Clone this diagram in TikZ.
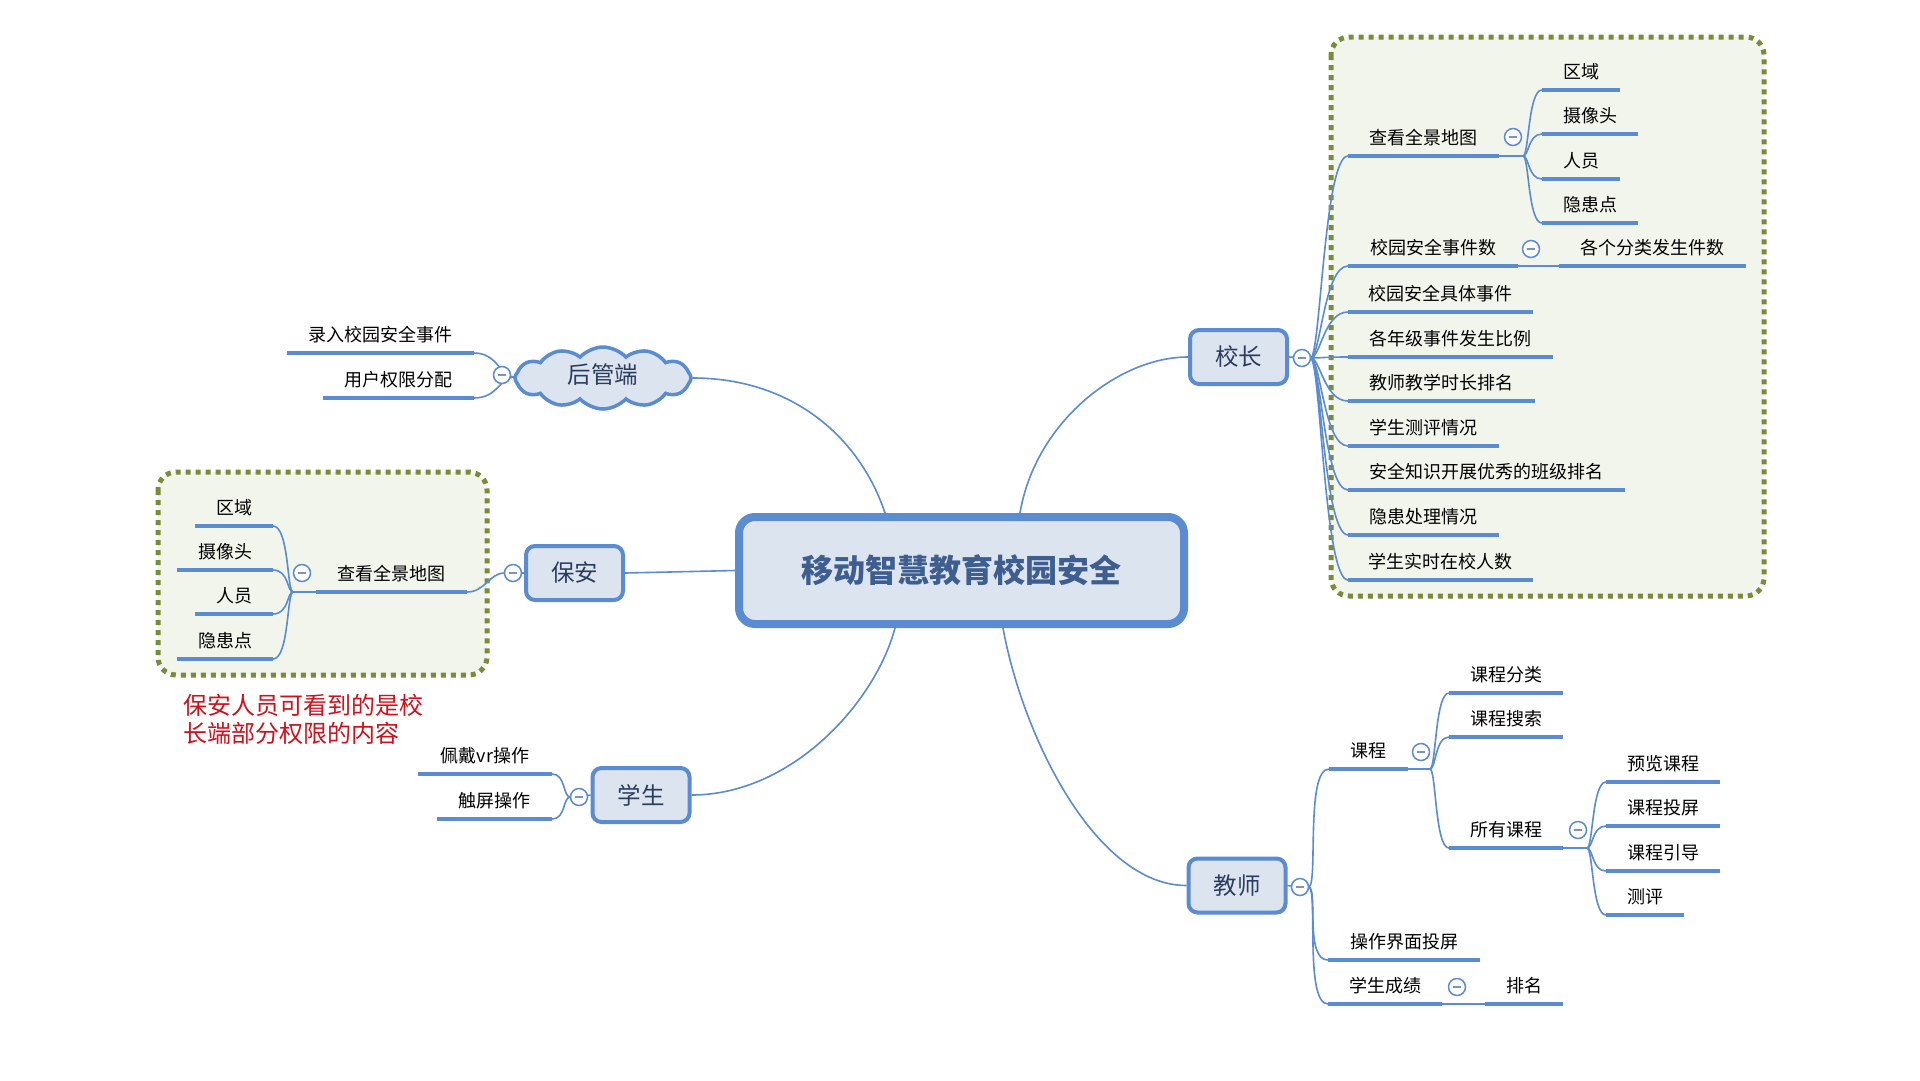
\documentclass[tikz,border=0pt]{standalone}
\usepackage{fontspec}
\setmainfont{Noto Sans CJK SC}
\usetikzlibrary{shapes.symbols}
\definecolor{mmblue}{HTML}{5B8BD0}
\definecolor{mmfill}{HTML}{DCE4F0}
\definecolor{mmtext}{HTML}{2B3D5C}
\definecolor{mmtitle}{HTML}{3D5E8F}
\definecolor{mmolive}{HTML}{7A8B3A}
\definecolor{mmbg}{HTML}{F2F5EC}
\definecolor{mmred}{HTML}{D0101B}
\definecolor{mmminus}{HTML}{7F93B8}
\tikzset{
 conn/.style={draw=mmblue, line width=1.6pt},
 uline/.style={draw=mmblue, line width=4.5pt},
 leaftext/.style={inner sep=0pt, font=\fontsize{18}{20}\selectfont, text=black},
 topic/.style={draw=mmblue, line width=4pt, fill=mmfill, rounded corners=9pt, minimum width=97pt, minimum height=54pt, inner sep=0pt, font=\fontsize{23.5}{26}\selectfont, text=mmtext},
 collapse/.style={circle, draw=mmblue, line width=1.5pt, fill=white, minimum size=17pt, inner sep=0pt,
   path picture={\draw[draw=mmminus, line width=1.5pt] ([xshift=-4pt]path picture bounding box.center) -- ([xshift=4pt]path picture bounding box.center);}},
 groupbox/.style={draw=mmolive, fill=mmbg, line width=5pt, dash pattern=on 5pt off 5pt, rounded corners=18pt},
}
\newcommand\mmleaf[5]{%
 \coordinate (#1L) at (#2,#4);
 \coordinate (#1R) at (#3,#4);
 \draw[uline] (#1L) -- (#1R);
 \node[leaftext] (#1) at ({(#2+#3)/2},{#4-18.5}) {#5};
}
\begin{document}
\begin{tikzpicture}[x=1pt,y=-1pt]
\fill[white] (0,0) rectangle (1920,1080);
\useasboundingbox (0,0) rectangle (1920,1080);

% group boxes
\draw[groupbox] (1331,37) rectangle (1764,596);
\draw[groupbox] (158,472) rectangle (487,675);

% main topics
\node[draw=mmblue, line width=8pt, fill=mmfill, rounded corners=16pt, minimum width=445pt, minimum height=107pt, inner sep=0pt,
  font=\fontsize{32}{36}\selectfont\bfseries, text=mmtitle] (root) at (961.5,570.5) {移动智慧教育校园安全};
\node[topic] (xz) at (1238.5,357) {校长};
\node[topic] (ba) at (574.5,573) {保安};
\node[topic] (xs) at (641,795) {学生};
\node[topic] (js) at (1237,885.5) {教师};
\node[cloud, cloud puffs=12, cloud puff arc=95, cloud ignores aspect, draw=mmblue, line width=3.5pt, fill=mmfill,
  minimum width=176pt, minimum height=62pt, inner sep=0pt, font=\fontsize{23.5}{26}\selectfont, text=mmtext] (hg) at (603,378) {};
\node[inner sep=0pt, font=\fontsize{23.5}{26}\selectfont, text=mmtext] (hgt) at (603,375) {后管端};

% main connectors
\draw[conn] (hg.east) .. controls +(100,0) and +(-25,-75) .. ([xshift=-76.5pt]root.north);
\draw[conn] ([xshift=58.5pt]root.north) .. controls +(15,-90) and +(-70,0) .. (xz.west);
\draw[conn] (ba.east) -- (root.west);
\draw[conn] (xs.east) .. controls +(100,0) and +(-20,75) .. ([xshift=-66.5pt]root.south);
\draw[conn] ([xshift=41.5pt]root.south) .. controls +(20,110) and +(-90,0) .. (js.west);

% collapse circles (positions)
\coordinate (cxzP) at (1302,358);
\coordinate (cbaP) at (513,573);
\coordinate (cxsP) at (579,797);
\coordinate (cjsP) at (1300,887);
\coordinate (chgP) at (502,375);

% ---------- 校长 ----------
\mmleaf{ra}{1348}{1499}{156}{查看全景地图}
\mmleaf{raa}{1542}{1620}{90}{区域}
\mmleaf{rab}{1542}{1638}{134}{摄像头}
\mmleaf{rac}{1542}{1620}{179}{人员}
\mmleaf{rad}{1542}{1638}{223}{隐患点}
\mmleaf{rb}{1348}{1518}{266}{校园安全事件数}
\mmleaf{rba}{1559}{1746}{266}{各个分类发生件数}
\mmleaf{rc}{1348}{1533}{312}{校园安全具体事件}
\mmleaf{rd}{1348}{1553}{357}{各年级事件发生比例}
\mmleaf{re}{1348}{1535}{401}{教师教学时长排名}
\mmleaf{rf}{1348}{1499}{446}{学生测评情况}
\mmleaf{rg}{1348}{1625}{490}{安全知识开展优秀的班级排名}
\mmleaf{rh}{1348}{1499}{535}{隐患处理情况}
\mmleaf{ri}{1348}{1533}{580}{学生实时在校人数}

\draw[conn] (xz.east) -- (cxzP);
\foreach \c in {ra,rb,rc,rd,re,rf,rg,rh,ri}
  \draw[conn] ([xshift=8.5pt]cxzP) .. controls +(10,0) and +(-24,0) .. (\c L);
\draw[conn] (raR) -- ++(24,0) coordinate (rabp);
\foreach \c in {raa,rab,rac,rad}
  \draw[conn] (rabp) .. controls +(6,0) and +(-14,0) .. (\c L);
\draw[conn] (rbR) -- (rbaL);

% ---------- 保安 ----------
\mmleaf{la}{316}{467}{592}{查看全景地图}
\mmleaf{laa}{195}{273}{526}{区域}
\mmleaf{lab}{177}{273}{570}{摄像头}
\mmleaf{lac}{195}{273}{614}{人员}
\mmleaf{lad}{177}{273}{659}{隐患点}
\draw[conn] (ba.west) -- (cbaP);
\draw[conn] ([xshift=-8.5pt]cbaP) .. controls +(-15,0) and +(18,0) .. (laR);
\draw[conn] (laL) -- ++(-23,0) coordinate (labp);
\foreach \c in {laa,lab,lac,lad}
  \draw[conn] (labp) .. controls +(-6,0) and +(16,0) .. (\c R);

\node[inner sep=0pt, anchor=west, align=left, text=mmred, font=\fontsize{24}{28}\selectfont] (note) at (183,719)
  {保安人员可看到的是校\\长端部分权限的内容};

% ---------- 后管端 ----------
\mmleaf{ha}{287}{474}{353}{录入校园安全事件}
\mmleaf{hb}{323}{474}{398}{用户权限分配}
\coordinate (hgbp) at (514,377);
\foreach \c in {ha,hb}
  \draw[conn] (hgbp) .. controls +(-14,0) and +(24,0) .. (\c R);

% ---------- 学生 ----------
\mmleaf{sa}{418}{552}{774}{佩戴vr操作}
\mmleaf{sb}{437}{552}{819}{触屏操作}
\draw[conn] (xs.west) -- (cxsP);
\foreach \c in {sa,sb}
  \draw[conn] ([xshift=-8.5pt]cxsP) .. controls +(-8,0) and +(14,0) .. (\c R);

% ---------- 教师 ----------
\mmleaf{ta}{1329}{1408}{769}{课程}
\mmleaf{taa}{1449}{1563}{693}{课程分类}
\mmleaf{tab}{1449}{1563}{737}{课程搜索}
\mmleaf{tac}{1449}{1563}{848}{所有课程}
\mmleaf{taca}{1606}{1720}{782}{预览课程}
\mmleaf{tacb}{1606}{1720}{826}{课程投屏}
\mmleaf{tacc}{1606}{1720}{871}{课程引导}
\mmleaf{tacd}{1606}{1684}{915}{测评}
\mmleaf{tb}{1328}{1480}{960}{操作界面投屏}
\mmleaf{tc}{1328}{1442}{1004}{学生成绩}
\mmleaf{tca}{1485}{1563}{1004}{排名}
\draw[conn] (js.east) -- (cjsP);
\foreach \c in {ta,tb,tc}
  \draw[conn] ([xshift=8.5pt]cjsP) .. controls +(10,0) and +(-24,0) .. (\c L);
\draw[conn] (taR) -- ++(22,0) coordinate (tabp);
\foreach \c in {taa,tab,tac}
  \draw[conn] (tabp) .. controls +(6,0) and +(-14,0) .. (\c L);
\draw[conn] (tacR) -- ++(24,0) coordinate (tacbp);
\foreach \c in {taca,tacb,tacc,tacd}
  \draw[conn] (tacbp) .. controls +(6,0) and +(-14,0) .. (\c L);
\draw[conn] (tcR) -- (tcaL);

% collapse markers
\node[collapse] (cxz) at (cxzP) {};
\node[collapse] (cba) at (cbaP) {};
\node[collapse] (cxs) at (cxsP) {};
\node[collapse] (cjs) at (cjsP) {};
\node[collapse] (chg) at (chgP) {};
\node[collapse] (cra) at (1513,137) {};
\node[collapse] (crb) at (1531,249) {};
\node[collapse] (cla) at (302,573) {};
\node[collapse] (cta) at (1421,752) {};
\node[collapse] (ctac) at (1578,830) {};
\node[collapse] (ctc) at (1457,987) {};
\end{tikzpicture}
\end{document}
